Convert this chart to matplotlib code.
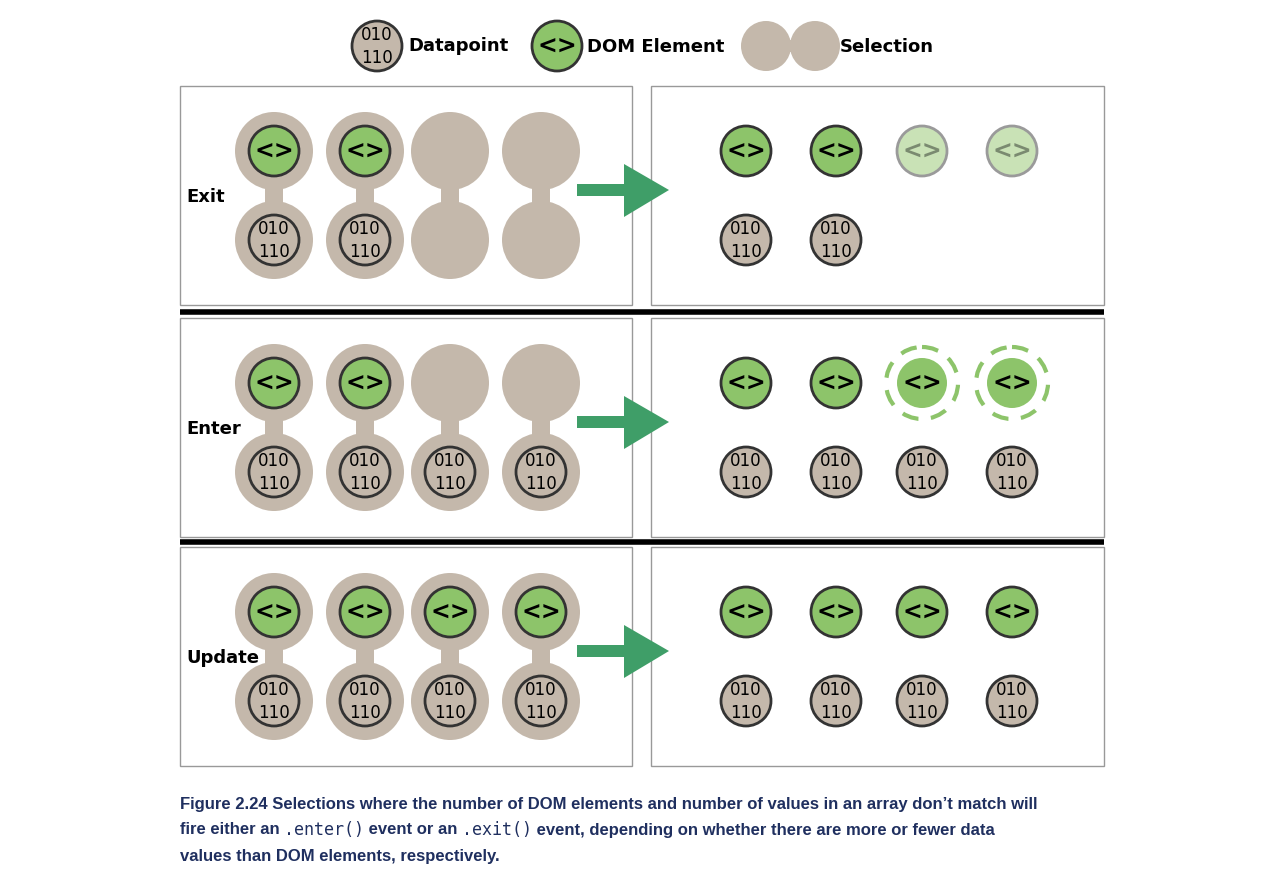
import matplotlib
matplotlib.use("Agg")
import matplotlib.pyplot as plt
from matplotlib.patches import Circle, Rectangle, Polygon

W, H = 1278, 892
BEIGE = "#c4b8ab"
GREEN = "#8dc46a"
FADED = "#c9e2b6"
EDGE = "#333333"
ARROW = "#3f9e68"
NAVY = "#1f2f5f"

# rows of the diagram: label, number of DOM elements, number of data, number of selections
row_labels = ["Exit", "Enter", "Update"]
left_dom = [2, 2, 4]
left_data = [2, 4, 4]
right_dom = [2, 2, 4]
right_faded = [2, 0, 0]
right_new = [0, 2, 0]
right_data = [2, 4, 4]

row_top = [86, 318, 547]
left_cols = [274, 365, 450, 541]
right_cols = [746, 836, 922, 1012]

fig = plt.figure(figsize=(W / 100, H / 100), dpi=100)
ax = fig.add_axes([0, 0, 1, 1])
ax.set_xlim(0, W)
ax.set_ylim(H, 0)
ax.axis("off")


def dom(x, y, r=25, face=GREEN, alpha=1.0, z=3):
    edge = EDGE if alpha == 1.0 else "#9a9a9a"
    ax.add_patch(Circle((x, y), r, facecolor=face, edgecolor=edge, lw=2, zorder=z))
    ax.text(x, y + 1, "<>", ha="center", va="center", fontsize=17, fontweight="bold",
            color="black" if alpha == 1.0 else "#7a8a70", family="DejaVu Sans", zorder=z + 1)


def data(x, y, r=25, z=3):
    ax.add_patch(Circle((x, y), r, facecolor=BEIGE, edgecolor=EDGE, lw=2, zorder=z))
    ax.text(x, y - 11, "010", ha="center", va="center", fontsize=12, family="DejaVu Sans", zorder=z + 1)
    ax.text(x, y + 12, "110", ha="center", va="center", fontsize=12, family="DejaVu Sans", zorder=z + 1)


def selection(x, ytop, ybot, r=39):
    ax.add_patch(Circle((x, ytop), r, facecolor=BEIGE, edgecolor="none", zorder=1))
    ax.add_patch(Circle((x, ybot), r, facecolor=BEIGE, edgecolor="none", zorder=1))
    ax.add_patch(Rectangle((x - 9, ytop), 18, ybot - ytop, facecolor=BEIGE, edgecolor="none", zorder=1))


for i, lab in enumerate(row_labels):
    t = row_top[i]
    ax.add_patch(Rectangle((180, t), 452, 219, facecolor="white", edgecolor="#999999", lw=1))
    ax.add_patch(Rectangle((651, t), 453, 219, facecolor="white", edgecolor="#999999", lw=1))
    yt, yb = t + 65, t + 154
    ax.text(186, t + 111, lab, fontsize=13, fontweight="bold", va="center", ha="left")
    for j, x in enumerate(left_cols):
        selection(x, yt, yb)
        if j < left_dom[i]:
            dom(x, yt)
        if j < left_data[i]:
            data(x, yb)
    cy = t + 104
    ax.add_patch(Polygon([(577, cy - 6), (624, cy - 6), (624, cy - 26), (669, cy),
                          (624, cy + 27), (624, cy + 6), (577, cy + 6)],
                         facecolor=ARROW, edgecolor="none", zorder=2))
    for j, x in enumerate(right_cols):
        if j < right_dom[i]:
            dom(x, yt)
        elif j < right_dom[i] + right_faded[i]:
            dom(x, yt, face=FADED, alpha=0.5)
        elif j < right_dom[i] + right_new[i]:
            ax.add_patch(Circle((x, yt), 36, facecolor="none", edgecolor=GREEN, lw=3,
                                linestyle=(0, (4, 3)), zorder=3))
            ax.add_patch(Circle((x, yt), 25, facecolor=GREEN, edgecolor="none", zorder=3))
            ax.text(x, yt + 1, "<>", ha="center", va="center", fontsize=17, fontweight="bold", zorder=4)
        if j < right_data[i]:
            data(x, yb)

for y in [312, 542]:
    ax.plot([180, 1104], [y, y], color="black", lw=4, solid_capstyle="butt")

# legend
data(377, 46)
ax.text(408, 46, "Datapoint", fontsize=13, fontweight="bold", va="center")
dom(557, 46)
ax.text(587, 47, "DOM Element", fontsize=13, fontweight="bold", va="center")
ax.add_patch(Circle((766, 46), 25, facecolor=BEIGE, edgecolor="none"))
ax.add_patch(Circle((815, 46), 25, facecolor=BEIGE, edgecolor="none"))
ax.add_patch(Rectangle((780, 40), 22, 12, facecolor=BEIGE, edgecolor="none"))
ax.text(840, 47, "Selection", fontsize=13, fontweight="bold", va="center")

# caption, drawn piece by piece so code fragments can be monospace
fig.canvas.draw()
renderer = fig.canvas.get_renderer()


def line(x, y, pieces):
    for txt, mono in pieces:
        t = ax.text(x, y, txt, fontsize=12, color=NAVY, va="center", ha="left",
                    family="DejaVu Sans Mono" if mono else "Liberation Sans",
                    fontweight="normal" if mono else "bold")
        bb = t.get_window_extent(renderer)
        x += bb.width


line(180, 805, [("Figure 2.24 Selections where the number of DOM elements and number of values in an array don\u2019t match will", False)])
line(180, 830, [("fire either an ", False), (".enter()", True), (" event or an ", False), (".exit()", True),
                (" event, depending on whether there are more or fewer data", False)])
line(180, 856, [("values than DOM elements, respectively.", False)])

fig.savefig("out.png", dpi=100)
